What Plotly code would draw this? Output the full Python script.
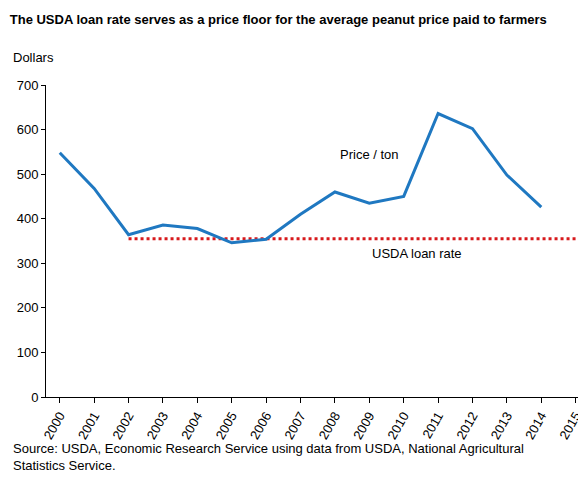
import plotly.graph_objects as go

years = list(range(2000, 2015))
price = [548, 468, 364, 386, 378, 346, 354, 410, 460, 435, 450, 636, 602, 498, 426]
loan_years = list(range(2002, 2016))
loan_rate = [355] * len(loan_years)
tick_years = list(range(2000, 2016))

fig = go.Figure()
fig.add_trace(go.Scatter(x=loan_years, y=loan_rate, mode="lines",
                         line=dict(color="#d7191c", width=3, dash="dot")))
fig.add_trace(go.Scatter(x=years, y=price, mode="lines",
                         line=dict(color="#1f78c1", width=3)))

fig.add_annotation(x=2009.0, y=545, text="Price / ton", showarrow=False,
                   xanchor="center", font=dict(size=13, color="black"))
fig.add_annotation(x=2010.4, y=322, text="USDA loan rate", showarrow=False,
                   xanchor="center", font=dict(size=13, color="black"))

fig.update_layout(
    width=586, height=490, showlegend=False,
    plot_bgcolor="white", paper_bgcolor="white",
    font=dict(family="Liberation Sans, Arial", size=13, color="black"),
    margin=dict(l=38, r=8, t=77, b=101),
    title=dict(text="<b>The USDA loan rate serves as a price floor for the average peanut price paid to farmers</b>",
               x=0.003, xanchor="left", y=0.985, yanchor="top", font=dict(size=13)),
    xaxis=dict(range=[1999.6, 2015.3], tickmode="array", tickvals=tick_years,
               tickangle=-60, showgrid=False, showline=True, linecolor="black",
               ticks="outside", ticklen=5, tickcolor="black", zeroline=False),
    yaxis=dict(range=[0, 700], dtick=100, showgrid=False, showline=True,
               linecolor="black", ticks="outside", ticklen=4, tickcolor="black",
               zeroline=False),
)
fig.add_annotation(xref="paper", yref="paper", x=-0.065, y=1.087, xanchor="left",
                   yanchor="middle", text="Dollars", showarrow=False, font=dict(size=13))
fig.add_annotation(xref="paper", yref="paper", x=-0.065, y=-0.135, xanchor="left",
                   yanchor="top", align="left", showarrow=False, font=dict(size=13),
                   text="Source: USDA, Economic Research Service using data from USDA, National Agricultural<br>Statistics Service.")

fig.write_html("out.html")
